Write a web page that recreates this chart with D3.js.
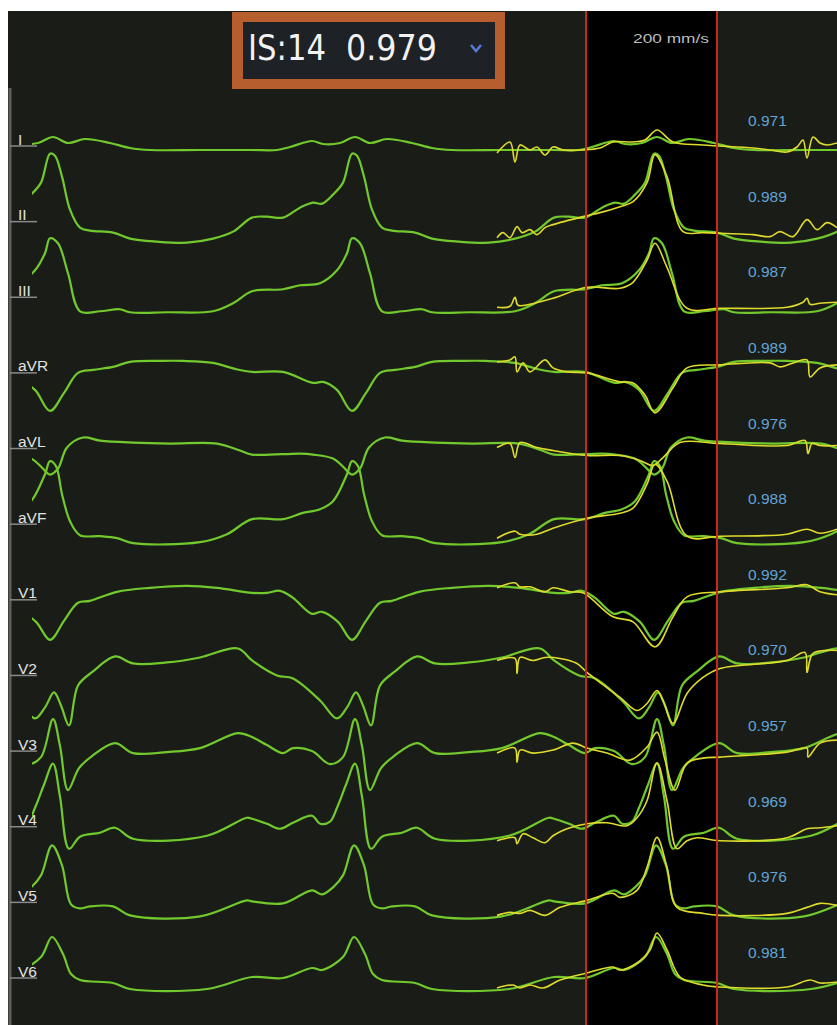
<!DOCTYPE html>
<html><head><meta charset="utf-8">
<script src="https://cdn.jsdelivr.net/npm/d3@7"></script>
<style>html,body{margin:0;padding:0;background:#fff;}svg{display:block;}</style>
</head><body>
<svg id="chart" width="837" height="1025"></svg>
<script>
// ---------- data ----------
const leads = ["I","II","III","aVR","aVL","aVF","V1","V2","V3","V4","V5","V6"];
const correlations = ["0.971","0.989","0.987","0.989","0.976","0.988","0.992","0.970","0.957","0.969","0.976","0.981"];
const headerIndex = "IS:14";
const headerScore = "0.979";
const sweepLabel = "200 mm/s";
const beatPeaks = [20, 322, 624];          // sample index of each template beat
const compareWindow = [556, 687];         // samples bounding the comparison window
const traceStart = 2, traceEnd = 807;     // samples

// one template cycle per lead: [offset from peak (samples), amplitude]
const cycleI   = [[-100,-4],[-75,-4],[-62,-1],[-40,5],[-29,2],[-12,3],[3,9],[18,3],[35,7],[60,3],[80,-2],[100,-4],[150,-4],[202,-4]];
const cycleII  = [[-100,4],[-85,5],[-69,4],[-52,14],[-39,19],[-30,18],[-19,27],[-9,39],[0,68],[5,66],[12,45],[20,12],[30,-6],[40,-9],[63,-11],[80,-17],[107,-20],[137,-21],[163,-17],[183,-10],[202,4]];
const cycleIII = [[-100,6],[-69,8],[-52,12],[-32,14],[-15,27],[-5,44],[0,59],[8,54],[18,24],[30,-14],[50,-14],[70,-12],[80,-15],[117,-15],[163,-14],[183,-6],[202,6]];
const cycleAVR = [[-100,1],[-69,1],[-39,-10],[-29,-9],[-15,-17],[0,-38],[14,-20],[28,0],[43,3],[63,6],[80,11],[110,12],[133,12],[163,10],[185,4],[202,1]];
const cycleAVL = [[-100,-6],[-52,-5],[-39,-6],[-19,-10],[-9,-18],[0,-26],[8,-20],[17,1],[33,11],[50,8],[83,6],[120,5],[167,5],[190,-2],[202,-6]];
const cycleAVF = [[-100,5],[-69,5],[-50,11],[-32,15],[-19,23],[-5,50],[0,63],[6,58],[12,30],[20,3],[30,-11],[50,-12],[67,-14],[83,-19],[150,-18],[177,-10],[202,5]];
const cycleV1  = [[-100,7],[-85,7],[-72,9],[-59,2],[-40,-14],[-30,-12],[-14,-22],[0,-40],[14,-21],[28,-3],[40,-1],[67,8],[100,12],[137,14],[167,12],[202,7]];
const cycleV2  = [[-100,15],[-75,0],[-59,-3],[-32,-25],[-15,-43],[-5,-32],[4,-17],[11,-30],[19,-50],[28,-10],[43,4],[65,19],[83,12],[117,13],[150,18],[188,27],[202,15]];
const cycleV3  = [[-100,14],[-85,6],[-69,-2],[-59,3],[-40,0],[-22,-13],[-9,-6],[3,32],[10,5],[18,-39],[29,-17],[42,-5],[65,8],[83,-2],[117,-1],[150,3],[188,18],[202,14]];
const cycleV4  = [[-100,8],[-85,3],[-72,-2],[-59,4],[-40,11],[-32,3],[-22,5],[-15,19],[-6,42],[3,63],[10,30],[19,-22],[30,-10],[50,-6],[65,-1],[83,-12],[157,-9],[197,9],[202,8]];
const cycleV5  = [[-100,1],[-69,-1],[-40,12],[-30,8],[-19,15],[-9,27],[2,57],[12,37],[21,-2],[30,-6],[40,-4],[63,-4],[80,-13],[150,-14],[197,2],[202,1]];
const cycleV6  = [[-100,1],[-69,0],[-40,10],[-30,8],[-9,21],[2,41],[13,24],[21,4],[30,-2],[63,-5],[80,-11],[157,-11],[202,1]];

// paced beat (yellow) per lead: [sample, amplitude]
const pacedI   = [[467,-7],[480,4],[485,-16],[490,1],[500,-4],[507,-1],[515,-9],[523,-1],[533,-4],[553,-4],[570,-2],[583,4],[603,4],[615,6],[627,16],[643,4],[673,1],[723,-2],[740,-4],[757,-6],[767,-1],[773,6],[777,-12],[783,9],[790,3],[797,1],[807,3]];
const pacedII  = [[467,-16],[473,-11],[480,-16],[487,-5],[492,-11],[500,-8],[507,-13],[515,-6],[523,-3],[553,5],[570,9],[590,15],[603,20],[617,39],[625,67],[637,45],[653,-10],[673,-11],[723,-13],[740,-15],[750,-10],[763,-15],[777,2],[787,-8],[797,-1],[807,-6]];
const pacedIII = [[467,-10],[480,-9],[485,0],[488,-8],[500,-7],[523,-1],[557,10],[590,9],[603,15],[617,37],[625,54],[637,30],[657,-11],[690,-11],[757,-10],[773,-5],[777,-1],[780,-7],[790,-6],[807,-5]];
const pacedAVR = [[467,11],[480,13],[485,16],[487,1],[493,10],[500,1],[515,13],[523,5],[537,1],[557,0],[590,-9],[603,-10],[615,-22],[625,-40],[643,-15],[657,5],[690,8],[740,10],[750,6],[763,10],[777,13],[780,-4],[790,5],[807,8]];
const pacedAVL = [[467,1],[480,5],[485,-9],[490,6],[507,1],[523,-2],[557,-7],[590,-7],[610,-12],[623,-17],[633,-9],[650,6],[690,5],[757,3],[775,8],[778,-5],[782,5],[790,3],[807,3]];
const pacedAVF = [[467,-14],[485,-7],[490,-10],[507,-10],[523,-4],[557,6],[590,11],[603,16],[617,40],[625,60],[637,43],[657,-12],[690,-12],[757,-10],[777,-5],[790,-9],[807,-5]];
const pacedV1  = [[467,12],[485,17],[490,13],[500,13],[515,8],[523,12],[540,8],[553,7],[583,-17],[603,-22],[625,-47],[643,-17],[657,3],[690,8],[757,12],[777,15],[790,8],[807,5]];
const pacedV2  = [[467,15],[485,17],[487,2],[490,18],[503,15],[515,18],[530,17],[547,12],[557,3],[590,-22],[607,-35],[617,-28],[627,-15],[633,-25],[643,-48],[657,-18],[673,-2],[690,7],[757,15],[775,23],[777,3],[783,22],[807,25]];
const pacedV3  = [[467,-2],[485,3],[487,-11],[490,1],[503,-2],[523,1],[543,8],[557,3],[577,-2],[600,-9],[617,4],[627,19],[635,-9],[645,-39],[657,-12],[673,-7],[690,-6],[757,-1],[777,3],[778,-6],[790,8],[807,11]];
const pacedV4  = [[467,-14],[485,-11],[487,-17],[493,-7],[503,-11],[515,-16],[523,-9],[540,-1],[557,3],[577,4],[597,1],[607,9],[617,26],[627,64],[637,26],[647,-22],[657,-14],[667,-11],[690,-14],[757,-11],[777,-2],[790,-1],[807,1]];
const pacedV5  = [[467,-13],[480,-10],[490,-11],[500,-8],[515,-13],[530,-5],[557,2],[583,9],[590,5],[607,12],[617,35],[627,65],[637,35],[647,-5],[673,-11],[690,-13],[757,-11],[777,-5],[790,-1],[807,-3]];
const pacedV6  = [[467,-10],[483,-7],[490,-10],[500,-7],[513,-10],[530,-2],[557,5],[583,11],[590,8],[607,15],[620,28],[627,45],[637,28],[650,1],[673,-7],[690,-9],[757,-9],[780,-2],[790,-5],[807,-4]];

const templateCycles = [cycleI,cycleII,cycleIII,cycleAVR,cycleAVL,cycleAVF,cycleV1,cycleV2,cycleV3,cycleV4,cycleV5,cycleV6];
const pacedTraces = [pacedI,pacedII,pacedIII,pacedAVR,pacedAVL,pacedAVF,pacedV1,pacedV2,pacedV3,pacedV4,pacedV5,pacedV6];

// ---------- drawing ----------
const W = 837, H = 1025;
const svg = d3.select("#chart");
const x = d3.scaleLinear().domain([0, 807]).range([30, 837]);
const row = d3.scalePoint().domain(leads).range([146, 978]);
const amp = d3.scaleLinear().domain([-100, 100]).range([100, -100]);

svg.append("rect").attr("width", W).attr("height", H).attr("fill", "#ffffff");
svg.append("rect").attr("x", 8).attr("y", 11).attr("width", W - 8).attr("height", H - 11).attr("fill", "#1a1d17");
// comparison window
svg.append("rect").attr("x", x(compareWindow[0])).attr("y", 11)
  .attr("width", x(compareWindow[1]) - x(compareWindow[0])).attr("height", H - 11).attr("fill", "#000");

// left axis
svg.append("line").attr("x1", 10).attr("x2", 10).attr("y1", 88).attr("y2", H)
  .attr("stroke", "#5e5e5e").attr("stroke-width", 3);

const defs = svg.append("defs");
defs.append("clipPath").attr("id", "tr").append("rect")
  .attr("x", x(traceStart)).attr("y", 0).attr("width", x(traceEnd) - x(traceStart)).attr("height", H);

leads.forEach((lead, i) => {
  const y0 = row(lead);
  svg.append("line").attr("x1", 10).attr("x2", 37).attr("y1", y0).attr("y2", y0)
    .attr("stroke", "#8a8a8a").attr("stroke-width", 1.5);
  svg.append("text").attr("x", 18).attr("y", y0 - 1.5).text(lead)
    .attr("fill", "#e2e2e2").attr("font-family", "Liberation Sans, Arial, sans-serif").attr("font-size", 15.5);
  svg.append("text").attr("x", 748).attr("y", y0 - 20).text(correlations[i])
    .attr("fill", "#62a3d6").attr("font-family", "Liberation Sans, Arial, sans-serif").attr("font-size", 15.5);
});

const line = d3.line().curve(d3.curveCatmullRom.alpha(0.5));
const gTr = svg.append("g").attr("clip-path", "url(#tr)");

leads.forEach((lead, i) => {
  const y0 = row(lead);
  const pts = [];
  beatPeaks.forEach((p, k) => {
    templateCycles[i].forEach((d, j) => {
      if (k > 0 && j === 0) return;
      pts.push([x(p + d[0]), y0 + amp(d[1])]);
    });
  });
  gTr.append("path").attr("d", line(pts)).attr("fill", "none")
    .attr("stroke", "#72c92e").attr("stroke-width", 2.2).attr("stroke-linejoin", "round");
});

leads.forEach((lead, i) => {
  const y0 = row(lead);
  const pts = pacedTraces[i].map(d => [x(d[0]), y0 + amp(d[1])]);
  gTr.append("path").attr("d", line(pts)).attr("fill", "none")
    .attr("stroke", "#dedb2c").attr("stroke-width", 1.6).attr("stroke-linejoin", "round");
});

// window boundaries
compareWindow.forEach(s => {
  svg.append("line").attr("x1", x(s)).attr("x2", x(s)).attr("y1", 11).attr("y2", H)
    .attr("stroke", "#c42a1c").attr("stroke-width", 2);
});

svg.append("text").attr("x", 633).attr("y", 43).text(sweepLabel)
  .attr("fill", "#bdbdbd").attr("font-family", "Liberation Sans, Arial, sans-serif").attr("font-size", 13)
  .attr("textLength", 76).attr("lengthAdjust", "spacingAndGlyphs");

// header selector
svg.append("rect").attr("x", 232).attr("y", 12).attr("width", 273).attr("height", 77).attr("fill", "#b65e2d");
svg.append("rect").attr("x", 243).attr("y", 22).attr("width", 252).attr("height", 57).attr("fill", "#1e2126");
const hf = "Liberation Sans Narrow, DejaVu Sans Condensed, Liberation Sans, sans-serif";
svg.append("text").attr("x", 248).attr("y", 60).text(headerIndex).attr("fill", "#f2f2f2")
  .attr("font-family", hf).attr("font-size", 36).attr("textLength", 78).attr("lengthAdjust", "spacingAndGlyphs");
svg.append("text").attr("x", 346).attr("y", 60).text(headerScore).attr("fill", "#f2f2f2")
  .attr("font-family", hf).attr("font-size", 36).attr("textLength", 91).attr("lengthAdjust", "spacingAndGlyphs");
svg.append("path").attr("d", "M471,45 L476,51 L481,45").attr("fill", "none")
  .attr("stroke", "#5b79d4").attr("stroke-width", 2.5);
</script>
</body></html>
